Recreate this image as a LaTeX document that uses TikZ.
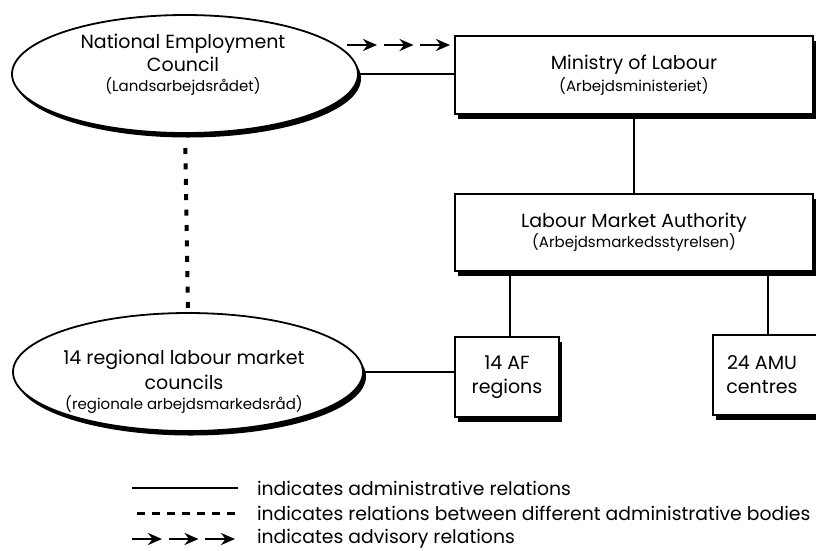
\documentclass[tikz,border=0pt]{standalone}
\usepackage{fontspec}
\setmainfont{Poppins}
\usetikzlibrary{shapes.geometric,arrows.meta,decorations.markings}
\begin{document}
\begin{tikzpicture}[x=1pt,y=-1pt,
  every node/.style={inner sep=0pt,outer sep=0pt},
  bigtxt/.style={font=\fontsize{19}{23}\selectfont,align=center},
  box/.style={draw,line width=1.8pt,fill=white,align=center},
  oval/.style={ellipse,draw,line width=1.8pt,fill=white},
  shadowfill/.style={fill=black},
  admin/.style={line width=1.6pt},
  dotrel/.style={line width=4pt,dash pattern=on 6pt off 9.4pt},
  advtip/.style={},
  advisory/.style={line width=2.4pt,dash pattern=on 28pt off 8.5pt,
    decoration={markings,
      mark=at position 30pt with {\arrow{Stealth[length=14pt,width=12pt]}},
      mark=at position 66.5pt with {\arrow{Stealth[length=14pt,width=12pt]}},
      mark=at position 103pt with {\arrow{Stealth[length=14pt,width=12pt]}}},
    postaction={decorate}},
  legtxt/.style={anchor=west,font=\fontsize{18.8}{22}\selectfont}
]
\newcommand\subfnt{\fontsize{15}{18}\selectfont}
\useasboundingbox (0,0) rectangle (816,550);
\fill[white] (0,0) rectangle (816,550);

% shadows (drawn first, behind the shapes)
\fill[shadowfill] (188,78.5) ellipse (173 and 59);
\fill[shadowfill] (191,376.5) ellipse (175 and 59);
\fill[shadowfill] (457.5,40.5) rectangle (816,118.5);
\fill[shadowfill] (457.5,198.5) rectangle (816,275.5);
\fill[shadowfill] (457.5,341.5) rectangle (561.5,421.5);
\fill[shadowfill] (715.5,339.5) rectangle (816,419.5);

% nodes
\node[oval,minimum width=346pt,minimum height=118pt] (nec) at (185,74) {};
\node[bigtxt] (nectxt) at (183,65)
  {National Employment\\Council\\[-3pt]{\subfnt (Landsarbejdsrådet)}};
\node[box,minimum width=358pt,minimum height=78pt,bigtxt] (min) at (634,75)
  {\rule{0pt}{4pt}Ministry of Labour\\[-1pt]{\subfnt (Arbejdsministeriet)}};
\node[box,minimum width=358pt,minimum height=77pt,bigtxt] (lma) at (634,232.5)
  {\rule{0pt}{4pt}Labour Market Authority\\[-3pt]{\subfnt (Arbejdsmarkedsstyrelsen)}};
\node[box,minimum width=104pt,minimum height=80pt,bigtxt] (af) at (507,377)
  {\rule{0pt}{4pt}14 AF\\[1pt]regions};
\node[box,minimum width=110pt,minimum height=80pt,bigtxt] (amu) at (768,375)
  {\rule{0pt}{4pt}\hspace*{-12pt}24 AMU\\[1pt]\hspace*{-12pt}centres};
\node[oval,minimum width=350pt,minimum height=118pt] (rlm) at (188,372) {};
\node[bigtxt] (rlmtxt) at (184,382)
  {14 regional labour market\\[2pt]councils\\[-3pt]{\subfnt (regionale arbejdsmarkedsråd)}};

% connectors
\coordinate (adv) at (347,45);
\draw[advisory] (adv) -- (adv -| min.west);
\draw[admin] (nec.east) -- (nec.east -| min.west);
\draw[admin] (min.south) -- (lma.north);
\draw[admin] (af.north -| 510,0) -- (lma.south -| 510,0);
\draw[admin] (amu.north) -- (amu.north |- lma.south);
\draw[admin] (rlm.east) -- (rlm.east -| af.west);
\draw[dotrel,shorten <=15pt] (nec.south) -- (rlm.north);

% legend
\coordinate (l1a) at (132,488); \coordinate (l1b) at (238,488);
\coordinate (l2a) at (137,513); \coordinate (l2b) at (238,513);
\coordinate (l3a) at (132,539); \coordinate (l3b) at (240,539);
\draw[admin] (l1a) -- (l1b);
\draw[line width=3pt,dash pattern=on 8pt off 7pt] (l2a) -- (l2b);
\draw[advisory] (l3a) -- (l3b);
\node[legtxt] (t1) at (257,488) {indicates administrative relations};
\node[legtxt] (t2) at (257,513) {indicates relations between different administrative bodies};
\node[legtxt] (t3) at (257,539) {indicates advisory relations};
\end{tikzpicture}
\end{document}
